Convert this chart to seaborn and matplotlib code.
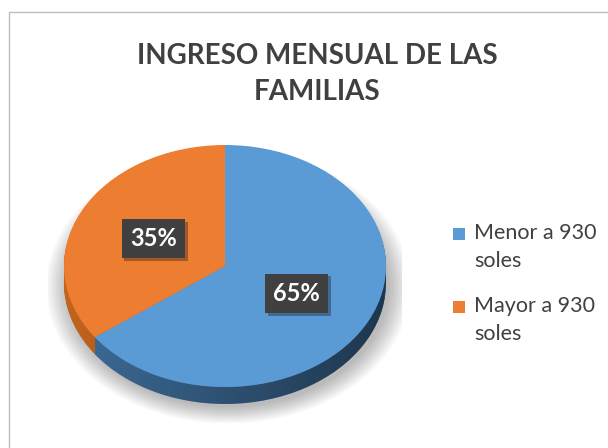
import numpy as np
import seaborn as sns
import matplotlib.pyplot as plt
import matplotlib.patheffects as pe
from matplotlib.patches import Polygon, Ellipse, Rectangle

# data
categories = ["Menor a 930\nsoles", "Mayor a 930\nsoles"]
values = [65, 35]
top_colors = ["#5b9bd5", "#ed7d31"]
side_colors = ["#3d6c98", "#c2641f"]
title = "INGRESO MENSUAL DE LAS\nFAMILIAS"

sns.set_theme(style="white")
plt.rcParams["font.family"] = ["Lato", "DejaVu Sans"]

W, H = 608, 448
fig = plt.figure(figsize=(W / 100, H / 100), dpi=100)

# background: white frame + radial gray gradient chart area
bg = fig.add_axes([0, 0, 1, 1], zorder=-10)
bg.set_xlim(0, W)
bg.set_ylim(H, 0)
bg.axis("off")
bg.add_patch(Rectangle((0, 0), W, H, color="white"))
yy, xx = np.mgrid[12:H, 9:W]
r = np.sqrt(((xx - 310) / 290.0) ** 2 + ((yy - 200) / 235.0) ** 2)
shade = 1.0 - 0.19 * np.clip((r - 0.33) / 0.65, 0, 1.1)
bg.imshow(shade, cmap="gray", vmin=0, vmax=1, extent=[9, W, H, 12],
          aspect="auto", interpolation="bilinear")
bg.add_patch(Rectangle((9, 12), W, H, fill=False, ec="#bdbdbd", lw=1))

# pie axes, flattened to look like a tilted disc
cx, cy, rx, ry = 225, 266, 161, 121
depth = 17 / ry
ax = fig.add_axes([(cx - 1.1 * rx) / W, (H - cy - 1.3 * ry) / H,
                   2.2 * rx / W, 2.4 * ry / H])

# soft shadow under the disc
for i in range(12):
    s = 1.0 + i * 0.012
    ax.add_patch(Ellipse((0.02, -depth - 0.03), 2 * s, 2 * s, color="black",
                         alpha=0.025, lw=0, zorder=0.2))

# side of the disc
n = 20
for k in range(n, 0, -1):
    ax.pie(values, colors=side_colors, startangle=90, counterclock=False,
           center=(0, -depth * k / n), wedgeprops=dict(linewidth=0, zorder=1))

# darken the side towards the right
xs = np.linspace(-1, 1, 200)
upper = -np.sqrt(1 - xs ** 2)
side_poly = np.vstack([np.column_stack([xs, upper]),
                       np.column_stack([xs[::-1], upper[::-1] - depth])])
clip = Polygon(side_poly, closed=True, transform=ax.transData)
grad = np.linspace(0, 1, 256)[None, :]
im = ax.imshow(np.dstack([np.zeros((1, 256, 3)), (grad * 0.5)[..., None]]),
               extent=[-1, 1, -1 - depth, 0], aspect="auto", zorder=1.5,
               interpolation="bilinear")
im.set_clip_path(clip)

# top face
wedges, texts, autotexts = ax.pie(
    values, colors=top_colors, startangle=90, counterclock=False,
    autopct="%1.0f%%", pctdistance=0.5,
    wedgeprops=dict(linewidth=0, zorder=2))
for t in autotexts:
    t.set_color("white")
    t.set_fontsize(17)
    t.set_fontweight("bold")
    t.set_zorder(5)
    t.set_bbox(dict(boxstyle="square,pad=0.35", fc="#404040", ec="none"))
    t.get_bbox_patch().set_path_effects(
        [pe.SimplePatchShadow(offset=(2, -2), alpha=0.35), pe.Normal()])

ax.set_aspect("auto")
ax.set_xlim(-1.1, 1.1)
ax.set_ylim(-1.3, 1.1)
ax.axis("off")

fig.text(317 / W, 1 - 74 / H, title, ha="center", va="center",
         fontsize=20, fontweight="bold", color="#404040", linespacing=1.5)

# legend: square marker next to the first line of each label
for i, (label, color) in enumerate(zip(categories, top_colors)):
    y = 234 + i * 73
    bg.add_patch(Rectangle((453, y - 6), 12, 12, color=color, lw=0))
    bg.text(474, y - 11, label, ha="left", va="top", fontsize=15.5,
            color="#404040", linespacing=1.5)

fig.savefig("out.png", dpi=100)
